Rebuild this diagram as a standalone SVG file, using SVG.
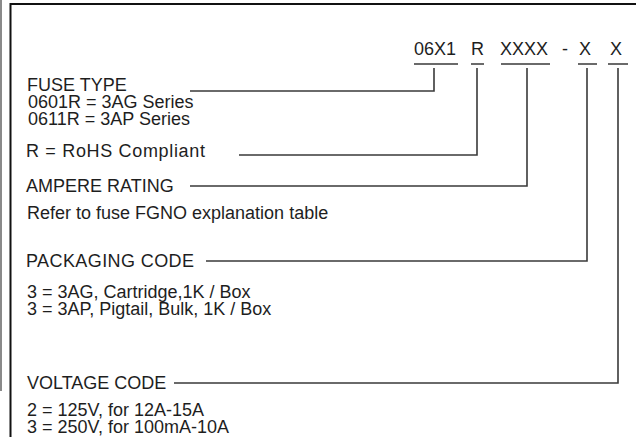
<svg xmlns="http://www.w3.org/2000/svg" width="636" height="437" viewBox="0 0 636 437">
<style>
text{font-family:"Liberation Sans",Arial,sans-serif;font-size:18px;fill:#1e1e1e}
.c{stroke:#3a3a3a;stroke-width:1.6;fill:none}
</style>
<rect width="636" height="437" fill="#fff"/>
<g id="frame">
<line x1="1" y1="0" x2="1" y2="391" stroke="#8a8a8a" stroke-width="2"/>
<line x1="10.5" y1="3" x2="10.5" y2="437" stroke="#111" stroke-width="2"/>
<line x1="10" y1="4" x2="636" y2="4" stroke="#111" stroke-width="2"/>
</g>
<g id="code">
<text x="414" y="55">06X1</text>
<text x="471" y="55">R</text>
<text x="500" y="55">XXXX</text>
<text x="562" y="55">-</text>
<text x="579" y="55">X</text>
<text x="610" y="55">X</text>
</g>
<g id="fuse-type">
<text x="27" y="91">FUSE TYPE</text>
<text x="28" y="108">0601R = 3AG Series</text>
<text x="28" y="125">0611R = 3AP Series</text>
</g>
<g id="rohs">
<text x="26" y="157" textLength="179" lengthAdjust="spacing">R = RoHS Compliant</text>
</g>
<g id="ampere">
<text x="26" y="192">AMPERE RATING</text>
<text x="27" y="219">Refer to fuse FGNO explanation table</text>
</g>
<g id="packaging">
<text x="26" y="267" textLength="168" lengthAdjust="spacing">PACKAGING CODE</text>
<text x="27" y="298">3 = 3AG, Cartridge,1K / Box</text>
<text x="27" y="315">3 = 3AP, Pigtail, Bulk, 1K / Box</text>
</g>
<g id="voltage">
<text x="27" y="389">VOLTAGE CODE</text>
<text x="27" y="416">2 = 125V, for 12A-15A</text>
<text x="27" y="433">3 = 250V, for 100mA-10A</text>
</g>
<g id="connectors" class="c">
<path class="c" d="M414 64H458M471 64H484M501 64H550M578 64H597M608 64H628"/>
<path class="c" d="M434 68V91H190"/>
<path class="c" d="M477 68V155H239"/>
<path class="c" d="M527 68V186H190"/>
<path class="c" d="M587 68V261H206"/>
<path class="c" d="M618 68V383H174"/>
</g>
</svg>
